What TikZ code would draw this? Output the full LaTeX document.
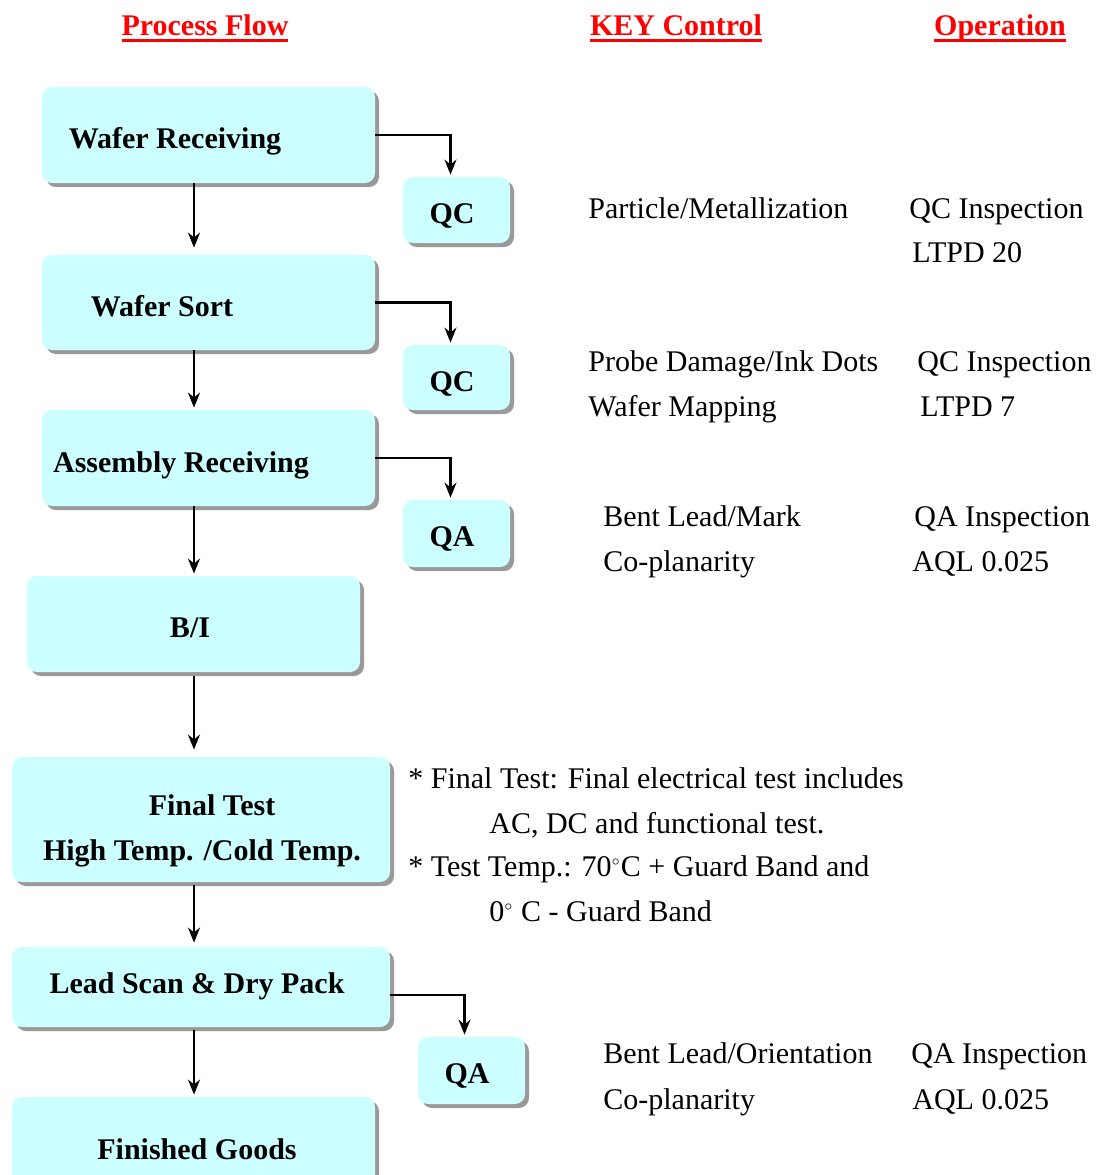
\documentclass[tikz,border=0pt]{standalone}
\usepackage{fontspec}
\setmainfont{Liberation Serif}
\usetikzlibrary{shadows,arrows.meta}

\definecolor{boxcyan}{HTML}{CCFFFF}
\definecolor{headred}{HTML}{FF0000}

\newcommand\headline[1]{\setbox0\hbox{#1}\rlap{\color{headred}\rule[-3.5pt]{\wd0}{1.3pt}}\box0}

\tikzset{
  flowbox/.style={fill=boxcyan, rounded corners=5pt, inner sep=0pt,
    drop shadow={shadow xshift=2pt, shadow yshift=-2pt, fill=gray!80, opacity=1}},
  boxtext/.style={font=\fontsize{15}{18}\selectfont\bfseries, inner sep=0pt,
    text height=10.5pt, text depth=3.5pt, yshift=-1.5pt},
  keytext/.style={font=\fontsize{15}{18}\selectfont, inner sep=0pt, anchor=west,
    text height=10.5pt, text depth=3.5pt, yshift=-1.5pt},
  headtext/.style={font=\fontsize{15}{18}\selectfont\bfseries, text=headred, inner sep=0pt,
    text height=10.5pt, text depth=3.5pt, yshift=-1.5pt},
  flowarrow/.style={-{Stealth[length=7.5pt,width=6pt]}, line width=1.1pt}
}

\begin{document}
\begin{tikzpicture}[x=0.5pt,y=-0.5pt]
\useasboundingbox (0,0) rectangle (1096,1175);

% column heads
\node[headtext] (h1) at (205,25) {\headline{Process Flow}};
\node[headtext] (h2) at (676,25) {\headline{KEY Control}};
\node[headtext] (h3) at (1000,25) {\headline{Operation}};

% process boxes
\node[flowbox, minimum width=166.5pt, minimum height=48pt] (wr) at (208.5,135) {};
\node[boxtext] (wrt) at (175,138) {Wafer Receiving};

\node[flowbox, minimum width=166.5pt, minimum height=47.5pt] (ws) at (208.5,302.5) {};
\node[boxtext] (wst) at (162,306) {Wafer Sort};

\node[flowbox, minimum width=166.5pt, minimum height=48pt] (ar) at (208.5,458) {};
\node[boxtext] (art) at (181,462) {Assembly Receiving};

\node[flowbox, minimum width=166.5pt, minimum height=48pt] (bi) at (193.5,624) {};
\node[boxtext] (bit) at (190,627) {B/I};

\node[flowbox, minimum width=189pt, minimum height=62.5pt] (ft) at (201,819.5) {};
\node[boxtext] (ftt) at (212,805) {Final Test};
\node[boxtext] (ftt2) at (202,850) {High Temp. /Cold Temp.};

\node[flowbox, minimum width=189pt, minimum height=40pt] (ls) at (201,987) {};
\node[boxtext] (lst) at (197,983) {Lead Scan \& Dry Pack};

\node[flowbox, minimum width=181.5pt, minimum height=50pt] (fg) at (193.5,1147) {};
\node[boxtext] (fgt) at (197,1149) {Finished Goods};

% check boxes
\node[flowbox, minimum width=53.5pt, minimum height=33pt] (qc1) at (456.5,210) {};
\node[boxtext] (qc1t) at (452,213) {QC};
\node[flowbox, minimum width=53.5pt, minimum height=32.5pt] (qc2) at (456.5,377.5) {};
\node[boxtext] (qc2t) at (452,381) {QC};
\node[flowbox, minimum width=53.5pt, minimum height=33.5pt] (qa1) at (456.5,533.5) {};
\node[boxtext] (qa1t) at (452,536) {QA};
\node[flowbox, minimum width=53.5pt, minimum height=33.5pt] (qa2) at (471.5,1070.5) {};
\node[boxtext] (qa2t) at (467,1073) {QA};

% main flow
\coordinate (spine) at (194,0);
\draw[flowarrow] (wr.south -| spine) -- ([yshift=3.5pt]ws.north -| spine);
\draw[flowarrow] (ws.south -| spine) -- ([yshift=1pt]ar.north -| spine);
\draw[flowarrow] (ar.south -| spine) -- ([yshift=1pt]bi.north -| spine);
\draw[flowarrow] ([yshift=-2pt]bi.south -| spine) -- ([yshift=3.5pt]ft.north -| spine);
\draw[flowarrow] ([yshift=-1.5pt]ft.south -| spine) -- ([yshift=2pt]ls.north -| spine);
\draw[flowarrow] ([yshift=-1.5pt]ls.south -| spine) -- ([yshift=1pt]fg.north -| spine);

% branches to checks
\draw[flowarrow] (wr.east) -| ([xshift=-3pt,yshift=1pt]qc1.north);
\draw[flowarrow] (ws.east) -| ([xshift=-3pt,yshift=1pt]qc2.north);
\draw[flowarrow] (ar.east) -| ([xshift=-3pt,yshift=1pt]qa1.north);
\draw[flowarrow] ([yshift=-4pt]ls.east) -| ([xshift=-3.5pt,yshift=1pt]qa2.north);

% key control / operation
\node[keytext] (k1) at (588,208) {Particle/Metallization};
\node[keytext] (o1) at (909,208) {QC Inspection};
\node[keytext] (o1b) at (912,252) {LTPD 20};

\node[keytext] (k2) at (588,361) {Probe Damage/Ink Dots};
\node[keytext] (k2b) at (588,406) {Wafer Mapping};
\node[keytext] (o2) at (917,361) {QC Inspection};
\node[keytext] (o2b) at (920,406) {LTPD 7};

\node[keytext] (k3) at (603,516) {Bent Lead/Mark};
\node[keytext] (k3b) at (603,561) {Co-planarity};
\node[keytext] (o3) at (914,516) {QA Inspection};
\node[keytext] (o3b) at (912,561) {AQL 0.025};

\node[keytext] (n1) at (408,778) {* Final Test: Final electrical test includes};
\node[keytext] (n1b) at (489,823) {AC, DC and functional test.};
\node[keytext] (n2) at (408,866) {* Test Temp.: 70\textsuperscript{\scriptsize$\circ$}C + Guard Band and};
\node[keytext] (n2b) at (489,911) {0\textsuperscript{\scriptsize$\circ$} C - Guard Band};

\node[keytext] (k4) at (603,1053) {Bent Lead/Orientation};
\node[keytext] (k4b) at (603,1099) {Co-planarity};
\node[keytext] (o4) at (911,1053) {QA Inspection};
\node[keytext] (o4b) at (912,1099) {AQL 0.025};
\end{tikzpicture}
\end{document}
